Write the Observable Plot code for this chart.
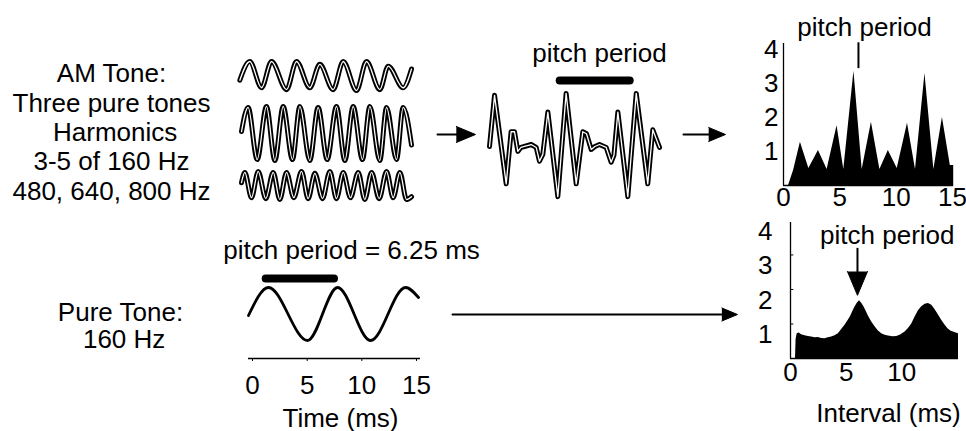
<!DOCTYPE html>
<html>
<head>
<meta charset="utf-8">
<script src="https://cdn.jsdelivr.net/npm/d3@7"></script>
<script src="https://cdn.jsdelivr.net/npm/@observablehq/plot@0.6"></script>
<style>
  body { margin: 0; background: #fff; }
  #chart { position: relative; width: 966px; height: 431px; background: #fff;
           font-family: "Liberation Sans", Arial, Helvetica, sans-serif; }
  #chart svg { position: absolute; left: 0; top: 0; overflow: visible; }
</style>
</head>
<body>
<div id="chart"></div>
<script>
// ================= DATA =================
// AM tone components – extrema of each trace: time (ms), amplitude (arb. units)
const tone480T = [-0.06, 0.83, 1.88, 2.77, 4.11, 5.0, 6.19, 7.08, 8.27, 9.17, 10.36, 11.25, 12.44, 13.19, 14.52, 15.27];
const tone480V = [-4, 16, -12, 16, -14, 16, -12, 13, -14, 16, -15, 16, -14, 11, -12, 8];
const tone640T = [0.09, 0.68, 1.49, 2.32, 3.07, 3.81, 4.64, 5.30, 6.19, 6.93, 7.74, 8.57, 9.32, 10.06, 10.89, 11.55, 12.44, 13.04, 13.93, 14.52, 15.27];
const tone640V = [2, 27, -27, 28, -28, 28, -27, 28, -28, 27, -27, 28, -28, 28, -27, 28, -28, 27, -27, 27, -12];
const tone800T = [0.09, 0.39, 0.98, 1.58, 2.26, 2.92, 3.51, 4.11, 4.76, 5.45, 6.04, 6.64, 7.32, 7.98, 8.57, 9.17, 9.82, 10.51, 11.1, 11.7, 12.38, 13.04, 13.63, 14.23, 14.82, 15.27];
const tone800V = [3, 14, -13, 15, -14, 14, -15, 14, -13, 15, -14, 13, -14, 15, -14, 14, -13, 14, -15, 14, -14, 15, -13, 14, -15, -12];

// Sum of the three tones (AM tone waveform)
const sumT = [0.09, 0.54, 1.58, 2.02, 2.32, 2.62, 2.9, 3.21, 3.81, 4.26, 4.55, 4.85, 5.3, 6.19, 6.93, 7.83, 8.42, 8.75, 9.17, 9.5, 9.91, 10.51, 10.95, 11.2, 11.55, 12.44, 13.19, 14.22, 14.67, 15.27];
const sumV = [-1, 51, -39, 14, 14, -6, -2, -1, 1, -2, -16, -9, 34, -52, 53, -39, 14, 12, -4, -1, 1, -2, -17, -10, 34, -52, 53, -39, 16, -2];

// Pure tone 160 Hz
const pureT = [-0.37, 1.46, 5.03, 7.78, 10.8, 14.0, 15.19];
const pureV = [-1.5, 26.5, -26.5, 26.5, -26.5, 26.5, 16.5];

// Interval histogram, AM tone
const amHistT = [0, 0.45, 0.9, 1.5, 2.25, 3.1, 3.87, 4.75, 5.35, 6.25, 6.98, 7.8, 8.55, 9.3, 10.09, 11.0, 11.71, 12.55, 13.34, 14.1, 14.8, 15.1];
const amHistV = [0, 0, 0.45, 1.27, 0.5, 1.03, 0.47, 1.76, 0.47, 3.36, 0.47, 1.86, 0.47, 1.03, 0.5, 1.83, 0.47, 3.3, 0.47, 2.0, 0.59, 0.59];

// Interval histogram, pure tone
const pureHistT = [0, 0.45, 0.5, 0.6, 0.78, 1.0, 1.3, 1.6, 1.9, 2.2, 2.5, 2.8, 3.1, 3.4, 3.7, 4.0, 4.3, 4.6, 4.9, 5.15, 5.4, 5.6, 5.8, 6.0, 6.2, 6.4, 6.6, 6.8, 7.0, 7.3, 7.6, 7.9, 8.2, 8.5, 8.8, 9.2, 9.55, 9.9, 10.3, 10.6, 10.9, 11.2, 11.5, 11.8, 12.1, 12.4, 12.7, 13.0, 13.3, 13.6, 13.9, 14.15, 14.4, 14.7, 14.95, 15.1];
const pureHistV = [0, 0, 0.55, 0.72, 0.74, 0.69, 0.66, 0.64, 0.62, 0.6, 0.61, 0.58, 0.57, 0.6, 0.62, 0.66, 0.72, 0.84, 0.96, 1.09, 1.22, 1.36, 1.49, 1.6, 1.67, 1.6, 1.5, 1.37, 1.23, 1.06, 0.92, 0.8, 0.72, 0.67, 0.65, 0.63, 0.64, 0.68, 0.77, 0.87, 1.0, 1.2, 1.38, 1.5, 1.57, 1.59, 1.54, 1.41, 1.26, 1.1, 0.96, 0.86, 0.8, 0.76, 0.73, 0.72];

// Tick labels
const histTicksY = [1, 2, 3, 4];
const amHistTicksX = [0, 5, 10, 15];
const pureHistTicksX = [0, 5, 10];
const timeTicks = [0, 5, 10, 15];

// Texts
const amLabel = "AM Tone:\nThree pure tones\n Harmonics\n3-5 of 160 Hz\n480, 640, 800 Hz";
const pureLabel = "Pure Tone:\n 160 Hz";
const pitchLabel = "pitch period";
const pitchEqLabel = "pitch period = 6.25 ms";
const timeLabel = "Time (ms)";
const intervalLabel = "Interval (ms)";

// Pitch-period bars (ms)
const amPitchBar = [6.4, 12.65];
const purePitchBar = [1.25, 7.5];

// ================= LAYOUT (pixels) =================
const W = 966, H = 431;
const FONT = "'Liberation Sans', Arial, Helvetica, sans-serif";
const FS = 26;
const fmt = d => String(d);
const box = {
  tone480: {l: 240, r: 413.6, t: 61, b: 91},
  tone640: {l: 240, r: 413.6, t: 104, b: 162},
  tone800: {l: 240, r: 413.6, t: 170, b: 200},
  sum:     {l: 488, r: 661.6, t: 86, b: 204},
  pure:    {l: 248, r: 420, t: 278, b: 358},
  amHist:  {l: 783, r: 953.2, t: 43, b: 185},
  pureHist:{l: 790, r: 958, t: 222, b: 358}
};

const chart = document.getElementById("chart");
const zip = (T, V) => T.map((t, i) => ({t, v: V[i]}));

function panel(b, xDomain, yDomain, marks) {
  const svg = Plot.plot({
    width: W, height: H,
    marginLeft: b.l, marginRight: W - b.r, marginTop: b.t, marginBottom: H - b.b,
    x: {domain: xDomain, axis: null, label: null},
    y: {domain: yDomain, axis: null, label: null},
    style: {background: "transparent", overflow: "visible", fontFamily: FONT, fontSize: FS + "px", color: "black"},
    marks
  });
  chart.appendChild(svg);
}

function outlinedTrace(data, curve) {
  return [
    Plot.line(data, {x: "t", y: "v", stroke: "black", strokeWidth: 5, curve, strokeLinejoin: "round"}),
    Plot.line(data, {x: "t", y: "v", stroke: "white", strokeWidth: 1.3, curve, strokeLinejoin: "round"})
  ];
}

// ---- AM tone components ----
panel(box.tone480, [0, 15.5], [-16, 16], outlinedTrace(zip(tone480T, tone480V), "monotone-x"));
panel(box.tone640, [0, 15.5], [-30, 30], outlinedTrace(zip(tone640T, tone640V), "monotone-x"));
panel(box.tone800, [0, 15.5], [-16, 16], outlinedTrace(zip(tone800T, tone800V), "monotone-x"));

// ---- Sum waveform ----
panel(box.sum, [0, 15.5], [-60, 60], [
  ...outlinedTrace(zip(sumT, sumV), "linear"),
  Plot.ruleY([{v: 66}], {y: "v", x1: amPitchBar[0], x2: amPitchBar[1], stroke: "black", strokeWidth: 8, strokeLinecap: "round"}),
  Plot.text([{t: 9.91, v: 93, s: pitchLabel}], {x: "t", y: "v", text: "s", fontSize: FS})
]);

// ---- Pure tone waveform ----
const pureY = [-44.5, 35.5];
panel(box.pure, [-0.37, 15.37], pureY, [
  Plot.line(zip(pureT, pureV), {x: "t", y: "v", stroke: "black", strokeWidth: 2.8, curve: "monotone-x"}),
  Plot.ruleY([{v: 35.5}], {y: "v", x1: purePitchBar[0], x2: purePitchBar[1], stroke: "black", strokeWidth: 8, strokeLinecap: "round"}),
  Plot.text([{t: 9.06, v: 63.5, s: pitchEqLabel}], {x: "t", y: "v", text: "s", fontSize: FS}),
  Plot.ruleY([pureY[0]], {stroke: "black", strokeWidth: 1.3}),
  Plot.axisX({ticks: timeTicks, tickFormat: fmt, tickSize: 3, tickPadding: 14, fontSize: FS, label: null}),
  Plot.text([timeLabel], {frameAnchor: "bottom", lineAnchor: "middle", dx: 6, dy: 60, fontSize: FS})
]);

// ---- AM interval histogram ----
panel(box.amHist, [0, 15.1], [0, 4.18], [
  Plot.areaY(zip(amHistT, amHistV), {x: "t", y: "v", fill: "black"}),
  Plot.ruleX([0], {stroke: "black", strokeWidth: 1.3}),
  Plot.ruleY([0], {stroke: "black", strokeWidth: 1.3}),
  Plot.axisY({ticks: histTicksY, tickFormat: fmt, tickSize: 0, tickPadding: 5, fontSize: FS, label: null}),
  Plot.axisX({ticks: amHistTicksX, tickFormat: fmt, tickSize: 0, tickPadding: 2, fontSize: FS, label: null}),
  Plot.ruleX([{t: 6.65}], {x: "t", y1: 3.44, y2: 4.2, stroke: "black", strokeWidth: 2}),
  Plot.text([{t: 7.19, v: 4.65, s: pitchLabel}], {x: "t", y: "v", text: "s", fontSize: FS})
]);

// ---- Pure-tone interval histogram ----
const arrowT = 6.02;
panel(box.pureHist, [0, 15.1], [0, 3.94], [
  Plot.areaY(zip(pureHistT, pureHistV), {x: "t", y: "v", fill: "black"}),
  Plot.ruleX([0], {stroke: "black", strokeWidth: 1.3}),
  Plot.ruleY([0], {stroke: "black", strokeWidth: 1.3}),
  Plot.ruleY(histTicksY.slice(0, 3), {x1: 0, x2: 0.3, stroke: "black", strokeWidth: 1}),
  Plot.axisY({ticks: histTicksY, tickFormat: fmt, tickSize: 0, tickPadding: 18, dy: 11, fontSize: FS, label: null}),
  Plot.axisX({ticks: pureHistTicksX, tickFormat: fmt, tickSize: 0, tickPadding: 4, fontSize: FS, label: null}),
  Plot.ruleX([{t: arrowT}], {x: "t", y1: 3.19, y2: 2.45, stroke: "black", strokeWidth: 2}),
  Plot.line([{t: arrowT - 0.9, v: 2.52}, {t: arrowT, v: 1.83}, {t: arrowT + 0.9, v: 2.52}],
            {x: "t", y: "v", fill: "black", stroke: "black", strokeWidth: 1}),
  Plot.text([{t: 8.7, v: 3.57, s: pitchLabel}], {x: "t", y: "v", text: "s", fontSize: FS}),
  Plot.text([intervalLabel], {frameAnchor: "bottom", lineAnchor: "middle", dx: 14, dy: 55, fontSize: FS})
]);

// ---- Layout overlay: descriptive labels and connecting arrows ----
const arrows = [
  {x1: 437, x2: 458, y: 134, head: 475, half: 8},
  {x1: 683, x2: 709, y: 134, head: 725, half: 7},
  {x1: 452, x2: 721, y: 314, head: 737, half: 6.5}
];
const overlayMarks = [
  Plot.text([{x: 111, y: 70, s: amLabel}], {x: "x", y: "y", text: "s", lineAnchor: "top", dy: -9, lineHeight: 1.13, fontSize: FS}),
  Plot.text([{x: 120, y: 310, s: pureLabel}], {x: "x", y: "y", text: "s", lineAnchor: "top", dy: -9, lineHeight: 1.04, fontSize: FS})
];
for (const a of arrows) {
  overlayMarks.push(Plot.line([{x: a.x1, y: a.y}, {x: a.x2, y: a.y}], {x: "x", y: "y", stroke: "black", strokeWidth: 2}));
  const base = a.head - (a.half * 2.4);
  overlayMarks.push(Plot.line([{x: base, y: a.y - a.half}, {x: a.head, y: a.y}, {x: base, y: a.y + a.half}],
    {x: "x", y: "y", fill: "black", stroke: "black", strokeWidth: 1}));
}
chart.appendChild(Plot.plot({
  width: W, height: H, margin: 0,
  x: {type: "identity", axis: null}, y: {type: "identity", axis: null},
  style: {background: "transparent", overflow: "visible", fontFamily: FONT, fontSize: FS + "px", color: "black"},
  marks: overlayMarks
}));
</script>
</body>
</html>
